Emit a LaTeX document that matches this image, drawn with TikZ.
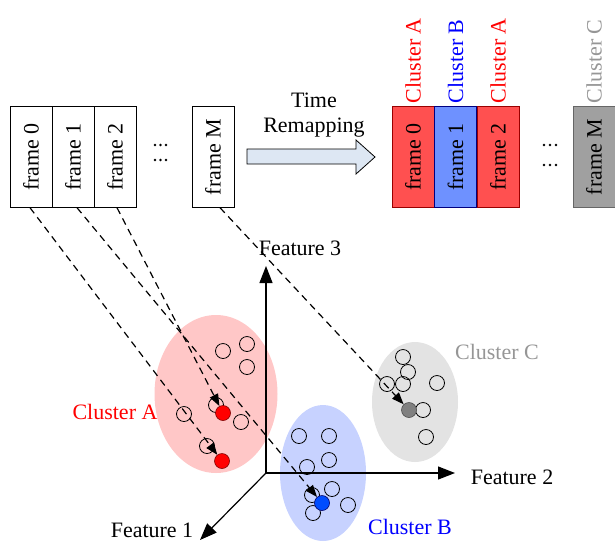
\documentclass[tikz,border=0pt]{standalone}
\usepackage{fontspec}
\setmainfont{Liberation Serif}
\usetikzlibrary{arrows.meta}
\definecolor{redbox}{RGB}{255,80,80}
\definecolor{bluebox}{RGB}{110,145,255}
\definecolor{graybox}{RGB}{160,160,160}
\definecolor{graytext}{RGB}{150,150,150}
\definecolor{arrowfill}{RGB}{221,231,243}
\begin{document}
\begin{tikzpicture}[x=1pt,y=-1pt,font=\fontsize{22}{25}\selectfont,
  frm/.style={draw,rotate=90,minimum width=101,minimum height=42,inner sep=0},
  lbl/.style={rotate=90,anchor=west,inner sep=3},
  pt/.style={circle,draw,minimum size=15,inner sep=0,line width=.8},
  dot/.style={circle,draw,minimum size=15,inner sep=0,line width=.6},
  link/.style={dashed,dash pattern=on 7pt off 5pt,line width=1.2,-{Triangle[length=12,width=9]}},
  axis/.style={line width=1.2,-{Triangle[length=17,width=13]}}]
  \useasboundingbox (0,0) rectangle (615,542);
  % frames before remapping
  \node[frm] (f0) at (31,157) {frame 0};
  \node[frm] (f1) at (73,157) {frame 1};
  \node[frm] (f2) at (115,157) {frame 2};
  \node[frm] (fm) at (213,157) {frame M};
  \foreach \x in {155,160.5,166} \foreach \y in {145,160}
    \fill (\x,\y) circle [radius=1.3];
  % time remapping arrow
  \node[align=center] (tr) at (314,115) {Time\\Remapping};
  \draw[fill=arrowfill,line width=.8] (247,149) -- (356,149) -- (356,140) -- (375,157)
    -- (356,174) -- (356,164) -- (247,164) -- cycle;
  % frames after remapping
  \node[frm,fill=redbox,draw=red!60!black] (r0) at (413,157) {frame 0};
  \node[frm,fill=bluebox,draw=blue!50!black] (r1) at (455.5,157) {frame 1};
  \node[frm,fill=redbox,draw=red!60!black] (r2) at (498,157) {frame 2};
  \node[frm,fill=graybox,draw=black!60] (rm) at (594,157) {frame M};
  \foreach \x in {544,550,556} \foreach \y in {145,165}
    \fill (\x,\y) circle [radius=1.3];
  \node[lbl,text=red] (c0) at (r0.east) {Cluster A};
  \node[lbl,text=blue] (c1) at (r1.east) {Cluster B};
  \node[lbl,text=red] (c2) at (r2.east) {Cluster A};
  \node[lbl,text=graytext] (cm) at (rm.east) {Cluster C};
  % clusters
  \fill[red,fill opacity=.22] (216,394) ellipse [x radius=61.5,y radius=79];
  \fill[gray,fill opacity=.22] (415,402) ellipse [x radius=43,y radius=60];
  \fill[blue!80!cyan,fill opacity=.22] (323,473) ellipse [x radius=43,y radius=68];
  \node[text=red] (la) at (115,412) {Cluster A};
  \node[text=blue] (lb) at (410,527) {Cluster B};
  \node[text=graytext] (lc) at (497,352) {Cluster C};
  % feature axes
  \coordinate (o) at (266,473);
  \coordinate (x1) at (200,540);
  \coordinate (x2) at (455,473);
  \coordinate (x3) at (266,266);
  \draw[axis] (o) -- (x1);
  \draw[axis] (o) -- (x2);
  \draw[axis] (o) -- (x3);
  \node (n1) at (152,530) {Feature 1};
  \node (n2) at (512,477) {Feature 2};
  \node (n3) at (300,248) {Feature 3};
  % samples
  \foreach \p [count=\i] in {(223,351),(247,344),(247,367),(216,405),(184,414),(241,422),(207,446)}
    \node[pt] (a\i) at \p {};
  \foreach \p [count=\i] in {(299,436),(329,436),(329,460),(307,467),(332,489),(312,495),(313,513),(348,505)}
    \node[pt] (b\i) at \p {};
  \foreach \p [count=\i] in {(403,357),(408,372),(387,384),(403,384),(437,383),(423,410),(426,437)}
    \node[pt] (c\i) at \p {};
  \node[dot,fill=red,draw=red!50!black] (ra1) at (223,413) {};
  \node[dot,fill=red,draw=red!50!black] (ra0) at (222,461) {};
  \node[dot,fill=blue!70!cyan,draw=blue!40!black] (rb1) at (322,503) {};
  \node[dot,fill=black!50,draw=black!70] (rcm) at (409,410) {};
  % frame to sample
  \draw[link] ([xshift=-1]f0.west) -- (ra0);
  \draw[link] ([xshift=4]f1.west) -- (rb1);
  \draw[link] ([xshift=2]f2.west) -- (ra1);
  \draw[link] ([xshift=7]fm.west) -- (rcm);
\end{tikzpicture}
\end{document}
